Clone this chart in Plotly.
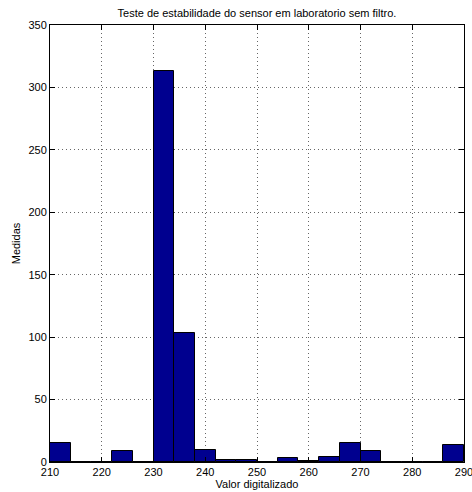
import plotly.graph_objects as go

bin_left = [210, 214, 218, 222, 226, 230, 234, 238, 242, 246,
            250, 254, 258, 262, 266, 270, 274, 278, 282, 286]
counts = [15, 0, 0, 9, 0, 313, 103, 10, 2, 2,
          0, 3, 1, 4, 15, 9, 0, 0, 0, 14]
bin_width = 4
x_ticks = [210, 220, 230, 240, 250, 260, 270, 280, 290]
y_ticks = [0, 50, 100, 150, 200, 250, 300, 350]

centers = [b + bin_width / 2 for b in bin_left]

fig = go.Figure(go.Bar(
    x=centers, y=counts, width=[bin_width] * len(centers),
    marker=dict(color="#00008F", line=dict(color="black", width=1)),
))

font = dict(family="Liberation Sans, Arial, sans-serif", size=11, color="black")
axis_common = dict(
    showline=True, linecolor="black", linewidth=1, mirror="allticks",
    ticks="inside", ticklen=5, tickcolor="black",
    showgrid=True, gridcolor="#666666", gridwidth=1, griddash="1px,3px",
    zeroline=False, tickfont=font, ticklabeloverflow="allow", automargin=False,
)
fig.update_xaxes(range=[210, 290], tickvals=x_ticks,
                 title=dict(text="Valor digitalizado", font=font, standoff=3), **axis_common)
fig.update_yaxes(range=[0, 350], tickvals=y_ticks,
                 title=dict(text="Medidas", font=font, standoff=5), **axis_common)
fig.update_layout(
    width=472, height=492,
    margin=dict(l=50, r=8, t=25, b=30),
    plot_bgcolor="white", paper_bgcolor="white",
    title=dict(text="Teste de estabilidade do sensor em laboratorio sem filtro.",
               font=font, x=257 / 472, xanchor="center",
               y=1 - 13 / 492, yanchor="middle"),
    bargap=0, showlegend=False, font=font,
)
fig.write_html("out.html")
